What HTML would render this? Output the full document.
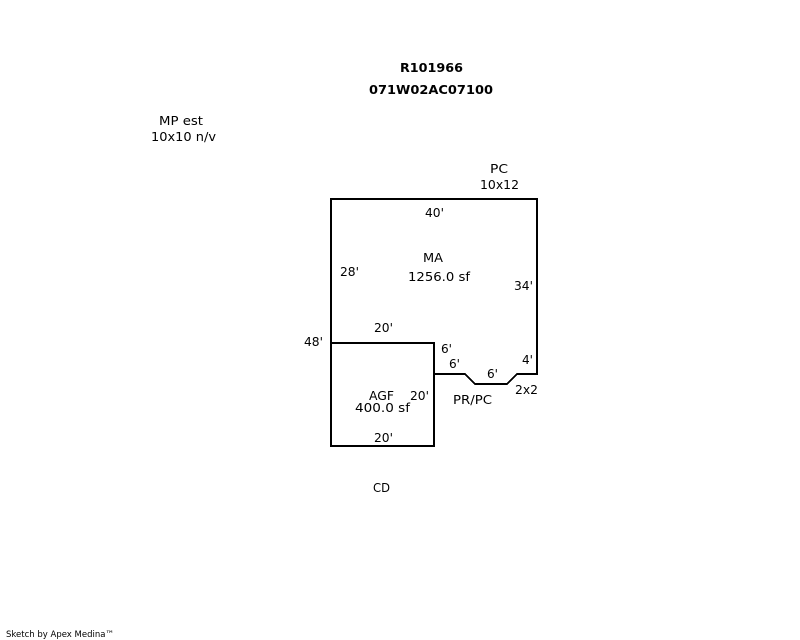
<!DOCTYPE html>
<html>
<head>
<meta charset="utf-8">
<style>
html,body{margin:0;padding:0;background:#fff;width:800px;height:640px;overflow:hidden}
svg{display:block}
text{font-family:"DejaVu Sans",sans-serif;font-size:12px;fill:#000}
.b{font-weight:bold;font-size:12px}
.s{font-size:9px}
</style>
</head>
<body>
<svg width="800" height="640" viewBox="0 0 800 640" xmlns="http://www.w3.org/2000/svg">
<g fill="none" stroke="#000" stroke-width="2" stroke-linejoin="miter" shape-rendering="crispEdges">
<path d="M331 343V199H537V374H517L507 384H475L465 374H434"/>
<path d="M331 343H434V446H331Z"/>
</g>
<text class="b" x="400" y="72" textLength="63" lengthAdjust="spacingAndGlyphs">R101966</text>
<text class="b" x="369" y="94" textLength="124" lengthAdjust="spacingAndGlyphs">071W02AC07100</text>
<text x="159" y="125" textLength="44" lengthAdjust="spacingAndGlyphs">MP est</text>
<text x="151" y="141" textLength="65" lengthAdjust="spacingAndGlyphs">10x10 n/v</text>
<text x="490" y="173" textLength="18" lengthAdjust="spacingAndGlyphs">PC</text>
<text x="480" y="189" textLength="39" lengthAdjust="spacingAndGlyphs">10x12</text>
<text x="425" y="217" textLength="19" lengthAdjust="spacingAndGlyphs">40'</text>
<text x="423" y="262" textLength="20" lengthAdjust="spacingAndGlyphs">MA</text>
<text x="408" y="281" textLength="62" lengthAdjust="spacingAndGlyphs">1256.0 sf</text>
<text x="340" y="276" textLength="19" lengthAdjust="spacingAndGlyphs">28'</text>
<text x="514" y="290" textLength="19" lengthAdjust="spacingAndGlyphs">34'</text>
<text x="374" y="332" textLength="19" lengthAdjust="spacingAndGlyphs">20'</text>
<text x="304" y="346" textLength="19" lengthAdjust="spacingAndGlyphs">48'</text>
<text x="441" y="353" textLength="11" lengthAdjust="spacingAndGlyphs">6'</text>
<text x="449" y="368" textLength="11" lengthAdjust="spacingAndGlyphs">6'</text>
<text x="522" y="364" textLength="11" lengthAdjust="spacingAndGlyphs">4'</text>
<text x="487" y="378" textLength="11" lengthAdjust="spacingAndGlyphs">6'</text>
<text x="515" y="394" textLength="23" lengthAdjust="spacingAndGlyphs">2x2</text>
<text x="453" y="404" textLength="39" lengthAdjust="spacingAndGlyphs">PR/PC</text>
<text x="369" y="400" textLength="25" lengthAdjust="spacingAndGlyphs">AGF</text>
<text x="410" y="400" textLength="19" lengthAdjust="spacingAndGlyphs">20'</text>
<text x="355" y="412" textLength="55" lengthAdjust="spacingAndGlyphs">400.0 sf</text>
<text x="374" y="442" textLength="19" lengthAdjust="spacingAndGlyphs">20'</text>
<text x="373" y="492" textLength="17" lengthAdjust="spacingAndGlyphs">CD</text>
<text class="s" x="6" y="637" textLength="108" lengthAdjust="spacingAndGlyphs">Sketch by Apex Medina™</text>
</svg>
</body>
</html>
